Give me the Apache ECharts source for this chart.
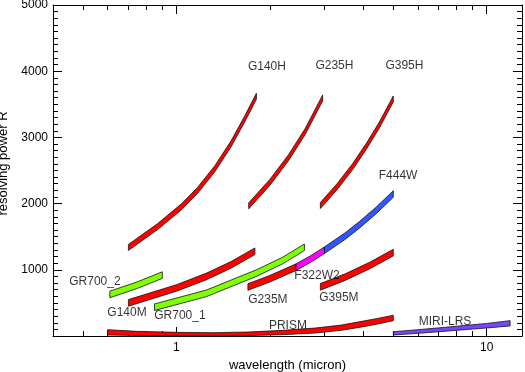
<!DOCTYPE html>
<html>
<head>
<meta charset="utf-8">
<script src="https://cdn.jsdelivr.net/npm/echarts@6/dist/echarts.min.js"></script>
<style>
html,body{margin:0;padding:0;background:#fff;}
#chart{width:525px;height:372px;}
</style>
</head>
<body>
<div id="chart"></div>
<script>
// ---- data (wavelength in micron, resolving power R) ----
const g140hWave = [0.70, 0.87, 1.04, 1.17, 1.33, 1.50, 1.66, 1.81];
const g140hR    = [1337, 1653, 1955, 2200, 2527, 2903, 3279, 3620];
const g235hWave = [1.71, 2.0, 2.3, 2.6, 2.96];
const g235hR    = [1966, 2320, 2696, 3089, 3596];
const g395hWave = [2.91, 3.3, 3.7, 4.1, 4.5, 5.0];
const g395hR    = [1970, 2260, 2560, 2870, 3180, 3580];
const g140mWave = [0.70, 1.0, 1.25, 1.5, 1.79];
const g140mR    = [500, 725, 900, 1075, 1280];
const g235mWave = [1.70, 2.0, 2.43];
const g235mR    = [740, 865, 1040];
const f322w2Wave = [2.43, 2.7, 3.0];
const f322w2R    = [1040, 1160, 1295];
const f444wWave = [3.0, 3.5, 3.88, 4.4, 5.0];
const f444wR    = [1295, 1510, 1675, 1895, 2145];
const g395mWave = [2.91, 3.5, 4.2, 5.0];
const g395mR    = [742, 890, 1065, 1260];
const gr700_1Wave = [0.85, 1.25, 1.81, 2.2, 2.585];
const gr700_1R    = [435, 645, 950, 1140, 1340];
const gr700_2Wave = [0.61, 0.75, 0.90];
const gr700_2R    = [628, 770, 920];
const prismWave = [0.60, 0.75, 1.0, 1.3, 1.7, 2.2, 2.8, 3.4, 4.0, 4.5, 5.0];
const prismLow  = [15, 8, 5, 4, 6, 20, 45, 85, 140, 185, 232];
const prismHigh = [95, 70, 55, 50, 60, 85, 120, 165, 225, 270, 313];
const miriWave = [5.0, 6.0, 7.5, 9.0, 10.0, 11.9];
const miriLow  = [15, 40, 75, 105, 121, 152];
const miriHigh = [65, 95, 135, 170, 190, 232];

const labelNames = ['G140H','G235H','G395H','F444W','GR700_2','G140M','GR700_1','G235M','F322W2','G395M','PRISM','MIRI-LRS'];
const labelWave  = [1.957, 3.23, 5.43, 5.18, 0.546, 0.693, 1.026, 1.972, 2.838, 3.34, 2.288, 7.34];
const labelR     = [4063, 4086, 4086, 2417, 816, 347, 302, 544, 906, 574, 151, 211];

const xMajorTicks = [1, 10];
const xMinorTicks = [0.5, 0.6, 0.7, 0.8, 0.9, 2, 3, 4, 5, 6, 7, 8, 9];
const xMin = 0.4, xMax = 13;

// ---- helpers ----
const L = Math.log10;
const RED = '#ff0000', GREEN = '#80ff00', MAGENTA = '#ff00ff', BLUE = '#3355ff', PURPLE = '#7744ff';

function centerBand(wave, r, color, halfPx) {
  return {
    type: 'custom', coordinateSystem: 'cartesian2d', silent: true,
    data: wave.map((w, i) => [L(w), r[i]]),
    encode: { x: 0, y: 1 },
    renderItem(params, api) {
      if (params.dataIndexInside !== 0) return;
      const n = params.dataInsideLength;
      const up = [], lo = [];
      for (let i = 0; i < n; i++) {
        const p = api.coord([api.value(0, i), api.value(1, i)]);
        up.push([p[0], p[1] - halfPx]);
        lo.push([p[0], p[1] + halfPx]);
      }
      return { type: 'polygon', shape: { points: up.concat(lo.reverse()) },
               style: { fill: color, stroke: '#111', lineWidth: 0.8 } };
    }
  };
}
function rangeBand(wave, low, high, color) {
  return {
    type: 'custom', coordinateSystem: 'cartesian2d', silent: true,
    data: wave.map((w, i) => [L(w), low[i], high[i]]),
    encode: { x: 0, y: [1, 2] },
    renderItem(params, api) {
      if (params.dataIndexInside !== 0) return;
      const n = params.dataInsideLength;
      const up = [], lo = [];
      for (let i = 0; i < n; i++) {
        const x = api.value(0, i);
        up.push(api.coord([x, api.value(2, i)]));
        lo.push(api.coord([x, api.value(1, i)]));
      }
      return { type: 'polygon', shape: { points: up.concat(lo.reverse()) },
               style: { fill: color, stroke: '#111', lineWidth: 0.8 } };
    }
  };
}

const FONT = 'Liberation Sans, Arial, Helvetica, sans-serif';
function xAxisDef(pos, major, showLabel) {
  return {
    type: 'value', min: L(xMin), max: L(xMax), position: pos, offset: 0,
    axisLine: { show: major, onZero: false, lineStyle: { color: '#000', width: 1 } },
    splitLine: { show: false },
    axisTick: { show: true, inside: true, length: major ? 9 : 5,
                customValues: (major ? xMajorTicks : xMinorTicks).map(L),
                lineStyle: { color: '#000', width: 1 } },
    axisLabel: { show: showLabel, customValues: xMajorTicks.map(L), margin: 6,
                 formatter: v => String(Math.round(Math.pow(10, v))),
                 color: '#000', fontSize: 12, fontFamily: FONT },
    name: showLabel ? 'wavelength (micron)' : '',
    nameLocation: 'middle', nameGap: 21,
    nameTextStyle: { color: '#000', fontSize: 13, fontFamily: FONT }
  };
}
function yAxisDef(pos, showLabel) {
  return {
    type: 'value', min: 0, max: 5000, interval: 1000, position: pos, offset: 0,
    axisLine: { show: true, onZero: false, lineStyle: { color: '#000', width: 1 } },
    splitLine: { show: false },
    axisTick: { show: true, inside: true, length: 9, lineStyle: { color: '#000', width: 1 } },
    minorTick: { show: true, splitNumber: 10, length: 5, lineStyle: { color: '#000', width: 1 } },
    minorSplitLine: { show: false },
    axisLabel: { show: showLabel, margin: 5, color: '#000', fontSize: 12, fontFamily: FONT,
                 formatter: v => (v === 0 ? '' : String(v)) },
    name: showLabel ? 'resolving power R' : '',
    nameLocation: 'middle', nameGap: 28,
    nameTextStyle: { color: '#000', fontSize: 13, fontFamily: FONT, padding: [0, 0, 0, 14] }
  };
}

const series = [
  rangeBand(prismWave, prismLow, prismHigh, RED),
  rangeBand(miriWave, miriLow, miriHigh, PURPLE),
  centerBand(g140hWave, g140hR, RED, 3),
  centerBand(g235hWave, g235hR, RED, 3),
  centerBand(g395hWave, g395hR, RED, 3),
  centerBand(g140mWave, g140mR, RED, 3.3),
  centerBand(g235mWave, g235mR, RED, 3.3),
  centerBand(g395mWave, g395mR, RED, 3.3),
  centerBand(gr700_1Wave, gr700_1R, GREEN, 3.3),
  centerBand(gr700_2Wave, gr700_2R, GREEN, 3.3),
  centerBand(f322w2Wave, f322w2R, MAGENTA, 3.3),
  centerBand(f444wWave, f444wR, BLUE, 3.3),
  {
    type: 'scatter', silent: true, symbolSize: 0,
    data: labelNames.map((n, i) => ({ name: n, value: [L(labelWave[i]), labelR[i]] })),
    label: { show: true, position: 'inside', formatter: p => p.name,
             color: '#000', fontSize: 12, fontFamily: FONT },
    emphasis: { disabled: true }
  }
];

const chart = echarts.init(document.getElementById('chart'), null, { renderer: 'canvas' });
chart.setOption({
  animation: false,
  backgroundColor: '#fff',
  grid: { left: 53, right: 3, top: 5, bottom: 36, containLabel: false, outerBoundsMode: 'none' },
  xAxis: [xAxisDef('bottom', true, true), xAxisDef('bottom', false, false),
          xAxisDef('top', true, false), xAxisDef('top', false, false)],
  yAxis: [yAxisDef('left', true), yAxisDef('right', false)],
  series: series
});
</script>
</body>
</html>
